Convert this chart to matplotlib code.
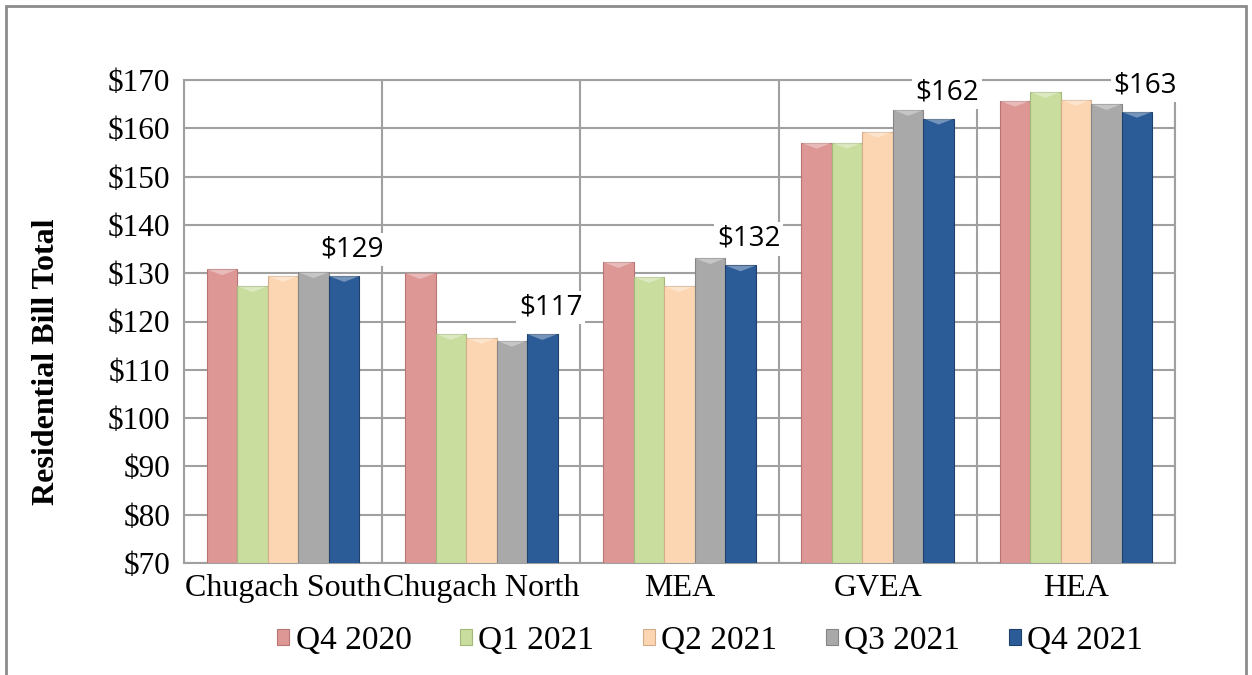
import numpy as np
import matplotlib
matplotlib.use("Agg")
import matplotlib.pyplot as plt
from matplotlib.patches import Rectangle

# data
utilities = ["Chugach South", "Chugach North", "MEA", "GVEA", "HEA"]
quarters  = ["Q4 2020", "Q1 2021", "Q2 2021", "Q3 2021", "Q4 2021"]
q4_2020 = [130.8, 130.0, 132.3, 157.0, 165.7]
q1_2021 = [127.3, 117.4, 129.2, 157.0, 167.5]
q2_2021 = [129.4, 116.6, 127.3, 159.3, 165.9]
q3_2021 = [130.2, 116.0, 133.1, 163.8, 165.0]
q4_2021 = [129.4, 117.4, 131.6, 162.0, 163.4]
yticks  = [70, 80, 90, 100, 110, 120, 130, 140, 150, 160, 170]

series = [q4_2020, q1_2021, q2_2021, q3_2021, q4_2021]
colors = ["#dd9896", "#c9dd9f", "#fcd6b2", "#a9a9a9", "#2c5c98"]
edges  = ["#b77472", "#a3b87a", "#d4ad89", "#858585", "#1e406c"]

serif = ["Liberation Serif", "DejaVu Serif"]

fig = plt.figure(figsize=(12.52, 6.75), dpi=100)
ax = fig.add_axes([184 / 1252, 1 - 563 / 675, 991 / 1252, 483 / 675])

x = np.arange(len(utilities))
width = 0.154
for i, (vals, c, ec, q) in enumerate(zip(series, colors, edges, quarters)):
    pos = x + (i - 2) * width
    ax.bar(pos, np.array(vals) - 70, bottom=70, width=width, color=c,
           edgecolor=ec, linewidth=0.8, label=q, zorder=3)
    # lighter bevel at the top of each bar
    for xp, v in zip(pos, vals):
        ax.fill([xp - width / 2, xp + width / 2, xp], [v, v, v - 1.2],
                color="white", alpha=0.35, lw=0, zorder=4)

# labels above the last series
for xp, v in zip(x + 2 * width, q4_2021):
    ax.annotate(f"${v:.0f}", (xp, v), xytext=(6, 9), textcoords="offset points",
                ha="center", va="bottom", fontsize=20, family="Open Sans",
                bbox=dict(facecolor="white", edgecolor="none", pad=2), zorder=5)

ax.set_xlim(-0.5, len(utilities) - 0.5)
ax.set_ylim(70, 170)
ax.set_yticks(yticks)
ax.set_yticklabels([f"${t}" for t in yticks], fontsize=22.5, family=serif)
ax.set_xticks(x)
ax.set_xticklabels(utilities, fontsize=23, family=serif)
ax.tick_params(length=0, pad=10)
ax.tick_params(axis="x", pad=8)

ax.set_xticks(np.arange(len(utilities) + 1) - 0.5, minor=True)
ax.tick_params(which="minor", length=0)
ax.grid(True, axis="y", color="#a0a0a0", linewidth=1.5, zorder=0)
ax.grid(True, axis="x", which="minor", color="#a0a0a0", linewidth=1.5, zorder=0)
ax.grid(False, axis="x", which="major")
for s in ax.spines.values():
    s.set_color("#a0a0a0")
    s.set_linewidth(1.5)

fig.text(47 / 1252, 1 - 362 / 675, "Residential Bill Total", rotation=90,
         ha="center", va="center", fontsize=23, fontweight="bold", family=serif)

fig.legend(loc="center", bbox_to_anchor=(710 / 1252, 1 - 641 / 675), ncol=5,
           frameon=False, prop={"family": serif, "size": 24},
           handlelength=0.36, handleheight=0.36, handletextpad=0.2, columnspacing=1.45)

# outer frame
fig.patches.append(Rectangle((6 / 1252, -0.01), 1240 / 1252, 1 - 6 / 675 + 0.01,
                             transform=fig.transFigure, fill=False,
                             edgecolor="#8c8c8c", linewidth=2))

fig.savefig("out.png", dpi=100)
